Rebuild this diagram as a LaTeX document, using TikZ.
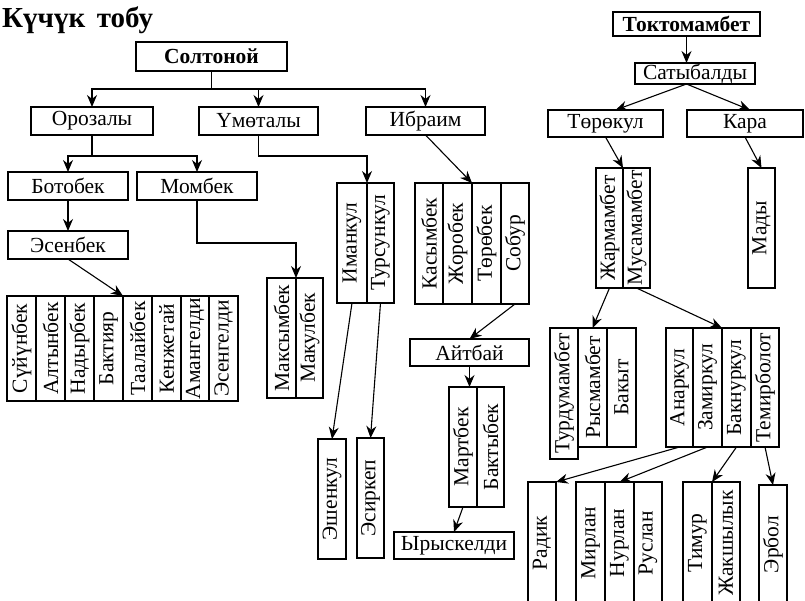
\documentclass[tikz,border=0pt]{standalone}
\usepackage{fontspec}
\setmainfont{Liberation Serif}
\usepackage{graphicx}
\usetikzlibrary{arrows.meta}
\newcommand{\mkH}[6]{\node[box,minimum width={#3-#1},minimum height={#4-#2}] (#5) at ({(#1+#3)/2},{(#2+#4)/2}) {#6};}
\newcommand{\mkV}[6]{\node[box,minimum width={#3-#1},minimum height={#4-#2}] (#5) at ({(#1+#3)/2},{(#2+#4)/2}) {\rotatebox{90}{#6}};}
\begin{document}
\begin{tikzpicture}[x=1pt,y=-1pt,
  box/.style={draw, line width=1.1pt, inner sep=0pt, outer sep=0pt, anchor=center,
    font=\fontsize{21.5}{24}\selectfont},
  arr/.style={line width=1.1pt, -{Stealth[length=12pt,width=10pt]}}]
\useasboundingbox (0,0) rectangle (805,600);
\node[anchor=base west, inner sep=0pt, font=\bfseries\fontsize{29}{30}\selectfont] (title) at (2,27) {Күчүк\hspace{0.4em}тобу};
% left tree
\mkH{136}{42}{287}{71}{solt}{\textbf{Солтоной}}
\mkH{31}{107}{153}{135}{oroz}{Орозалы}
\mkH{199}{107}{318}{135}{umot}{Үмөталы}
\mkH{366}{107}{485}{135}{ibr}{Ибраим}
\mkH{8}{172}{128}{200}{bot}{Ботобек}
\mkH{137}{172}{257}{200}{mom}{Момбек}
\mkH{8}{231}{128}{259}{esen}{Эсенбек}
\mkV{7}{296}{36}{401}{suy}{Сүйүнбек}
\mkV{36}{296}{65}{401}{alt}{Алтынбек}
\mkV{65}{296}{94}{401}{nad}{Надырбек}
\mkV{94}{296}{123}{401}{bakt}{Бактияр}
\mkV{123}{296}{152}{401}{taal}{Таалайбек}
\mkV{152}{296}{181}{401}{kenzh}{Кенжетай}
\mkV{181}{296}{209}{401}{aman}{Амангелди}
\mkV{209}{296}{238}{401}{esengel}{Эсенгелди}
\mkV{267}{278}{296}{398}{maks}{Максымбек}
\mkV{296}{278}{323}{398}{makul}{Макулбек}
\mkV{337}{183}{367}{303}{iman}{Иманкул}
\mkV{367}{183}{394}{303}{tursun}{Турсункул}
\mkV{415}{183}{443}{304}{kasym}{Касымбек}
\mkV{443}{183}{472}{304}{zhor}{Жоробек}
\mkV{472}{183}{501}{304}{torob}{Төрөбек}
\mkV{501}{183}{529}{304}{sobur}{Собур}
\mkH{410}{339}{529}{366}{aitb}{Айтбай}
\mkV{449}{387}{477}{507}{mart}{Мартбек}
\mkV{477}{387}{504}{507}{baktyb}{Бактыбек}
\mkH{394}{532}{514}{559}{yrys}{Ырыскелди}
\mkV{318}{439}{346}{559}{eshen}{Эшенкул}
\mkV{357}{438}{384}{558}{esirk}{Эсиркеп}
% right tree
\mkH{613}{12}{760}{36}{tokt}{\textbf{Токтомамбет}}
\mkH{635}{63}{755}{84}{saty}{Сатыбалды}
\mkH{548}{110}{663}{137}{toro}{Төрөкул}
\mkH{687}{110}{803}{137}{kara}{Кара}
\mkV{596}{168}{623}{288}{zharm}{Жармамбет}
\mkV{623}{168}{650}{288}{musa}{Мусамамбет}
\mkV{748}{168}{775}{288}{mady}{Мады}
\mkV{550}{328}{578}{459}{turdu}{Турдумамбет}
\mkV{578}{328}{607}{447}{rys}{Рысмамбет}
\mkV{607}{328}{636}{447}{bakyt}{Бакыт}
\mkV{666}{328}{693}{447}{anar}{Анаркул}
\mkV{693}{328}{722}{447}{zamir}{Замиркул}
\mkV{722}{328}{751}{447}{baknur}{Бакнуркул}
\mkV{751}{328}{779}{447}{temir}{Темирболот}
\mkV{528}{482}{556}{604}{radik}{Радик}
\mkV{576}{482}{605}{604}{mirlan}{Мирлан}
\mkV{605}{482}{634}{604}{nurlan}{Нурлан}
\mkV{634}{482}{662}{604}{ruslan}{Руслан}
\mkV{683}{482}{712}{604}{timur}{Тимур}
\mkV{712}{482}{740}{604}{zhaksh}{Жакшылык}
\mkV{759}{485}{787}{604}{erbol}{Эрбол}
% connectors left
\draw[arr] (solt.south) -- ++(0,18) -| (oroz.north);
\draw[arr] (solt.south) -- ++(0,18) -| (umot.north);
\draw[arr] (solt.south) -- ++(0,18) -| (ibr.north);
\draw[arr] (oroz.south) -- ++(0,21) -| (bot.north);
\draw[arr] (oroz.south) -- ++(0,21) -| (mom.north);
\draw[arr] (umot.south) -- ++(0,21) -| (iman.north east);
\draw[arr] (mom.south) -- ++(0,43) -| (maks.north east);
\draw[arr] (ibr.south) -- (zhor.north east);
\draw[arr] (bot.south) -- (esen.north);
\draw[arr] (esen.south) -- (bakt.north east);
\draw[arr] (iman.south) -- (eshen.north);
\draw[arr] (tursun.south) -- (esirk.north);
\draw[arr] (sobur.south) -- (aitb.north);
\draw[arr] (aitb.south) -- (aitb.south |- mart.north);
\draw[arr] (mart.south) -- (yrys.north);
% connectors right
\draw[arr] (tokt.south) -- (tokt.south |- saty.north);
\draw[arr] (saty.south -| tokt.south) -- ([xshift=10pt]toro.north);
\draw[arr] (saty.south -| tokt.south) -- ([xshift=5pt]kara.north);
\draw[arr] (toro.south) -- (zharm.north east);
\draw[arr] (kara.south) -- (mady.north);
\draw[arr] (zharm.south) -- (rys.north);
\draw[arr] (musa.south) -- (zamir.north east);
\draw[arr] (anar.south) -- (radik.north east);
\draw[arr] (zamir.south) -- (nurlan.north);
\draw[arr] (baknur.south) -- (timur.north east);
\draw[arr] (temir.south) -- (erbol.north);
\end{tikzpicture}
\end{document}
